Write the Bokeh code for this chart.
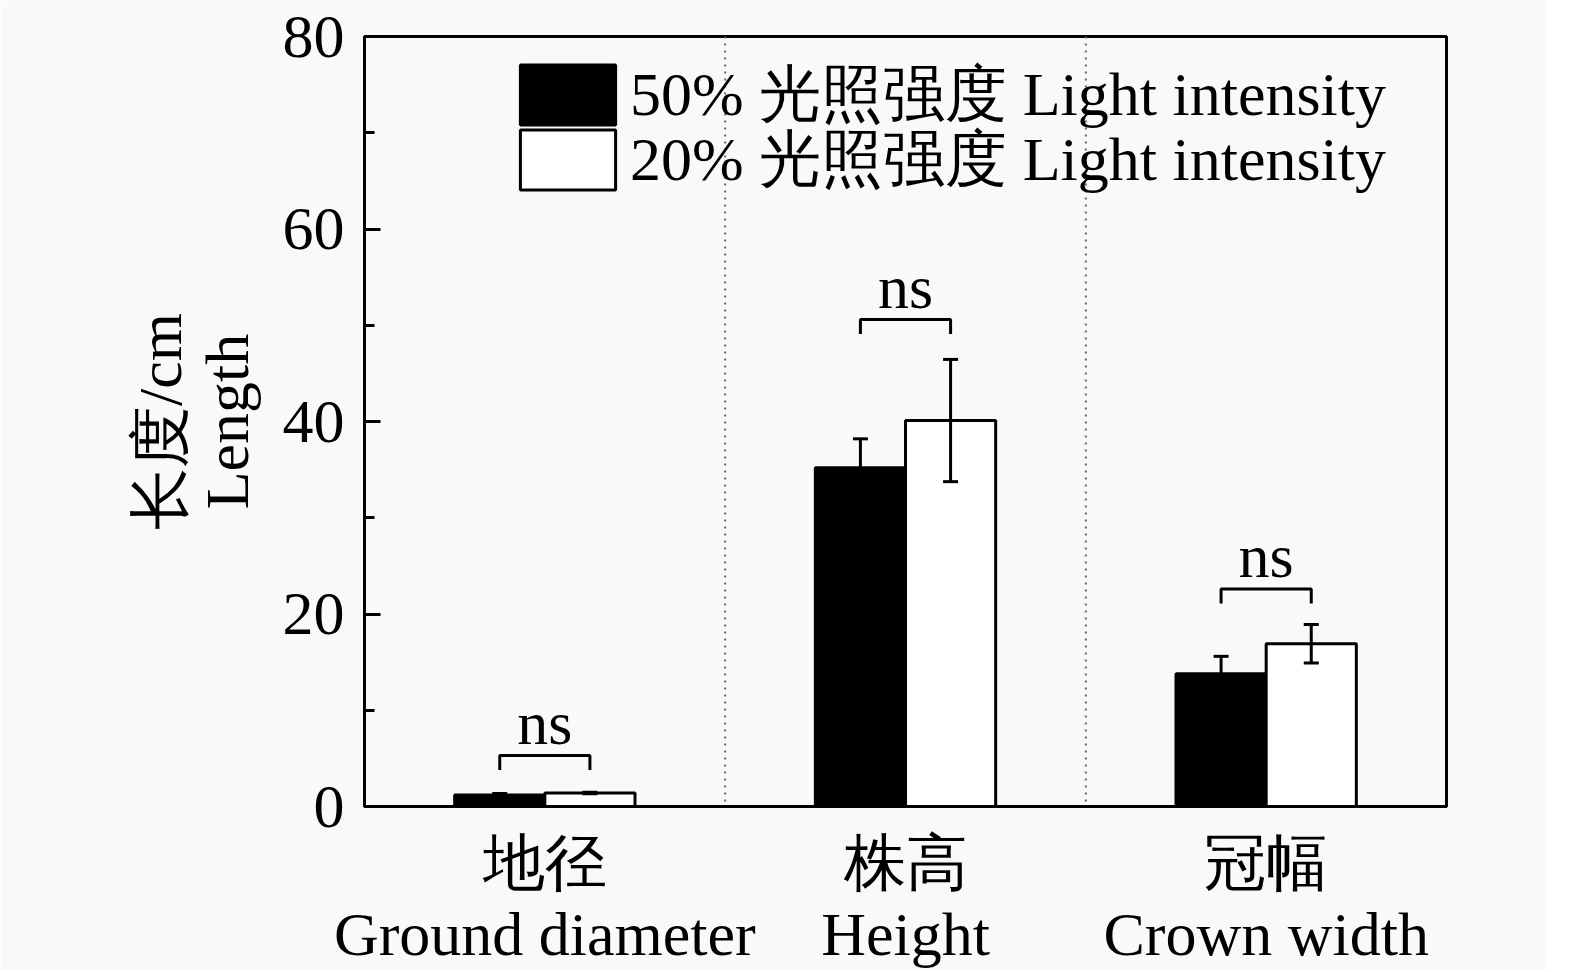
from bokeh.plotting import figure
from bokeh.models import (ColumnDataSource, Whisker, TeeHead, Span, Legend, LegendItem,
                          FixedTicker, SingleIntervalTicker, Range1d)
from bokeh.embed import file_html
from bokeh.resources import INLINE
from bokeh.core.properties import value
import numpy as np

# ---- data ----
categories = ["地径\nGround diameter", "株高\nHeight", "冠幅\nCrown width"]
series_names = ["50% 光照强度 Light intensity", "20% 光照强度 Light intensity"]
light50 = [1.2, 35.2, 13.8]
light50_err = [0.15, 3.0, 1.8]
light20 = [1.4, 40.1, 16.9]
light20_err = [0.08, 6.35, 2.0]
sig_labels = ["ns", "ns", "ns"]
sig_top = [5.3, 50.6, 22.6]
y_ticks = [0, 20, 40, 60, 80]

FONT = "Liberation Serif"
BG = "#f9f9f9"
bw = 0.25
leg = 1.5

centers = np.arange(len(categories)) + 0.5
x50 = centers - bw / 2
x20 = centers + bw / 2

p = figure(frame_width=1082, frame_height=770, min_border_left=364, min_border_top=36,
           min_border_right=100, min_border_bottom=140,
           x_range=Range1d(0, 3), y_range=Range1d(0, 80),
           output_backend="svg", toolbar_location=None)
p.background_fill_color = BG
p.border_fill_color = BG
p.outline_line_color = "black"
p.outline_line_width = 3
p.xgrid.visible = False
p.ygrid.visible = False

src50 = ColumnDataSource(dict(x=x50, top=light50, upper=np.array(light50) + np.array(light50_err),
                              lower=light50))
src20 = ColumnDataSource(dict(x=x20, top=light20, upper=np.array(light20) + np.array(light20_err),
                              lower=np.array(light20) - np.array(light20_err)))

r50 = p.vbar(x="x", top="top", width=bw, source=src50, fill_color="black",
             line_color="black", line_width=3)
r20 = p.vbar(x="x", top="top", width=bw, source=src20, fill_color="white",
             line_color="black", line_width=3)

w50 = Whisker(base="x", upper="upper", lower="lower", source=src50, dimension="height",
              line_width=3, line_color="black", level="annotation",
              upper_head=TeeHead(size=15, line_width=3, line_color="black"), lower_head=None)
w20 = Whisker(base="x", upper="upper", lower="lower", source=src20, dimension="height",
              line_width=3, line_color="black", level="annotation",
              upper_head=TeeHead(size=15, line_width=3, line_color="black"),
              lower_head=TeeHead(size=15, line_width=3, line_color="black"))
p.add_layout(w50)
p.add_layout(w20)

for loc in [1, 2]:
    p.add_layout(Span(location=loc, dimension="height", line_color="#666666",
                      line_width=2, line_dash="2 5"))

# significance brackets
xs = [[a, a, b, b] for a, b in zip(x50, x20)]
ys = [[t - leg, t, t, t - leg] for t in sig_top]
p.multi_line(xs=xs, ys=ys, line_color="black", line_width=3)
p.text(x=centers, y=np.array(sig_top) + 3.4, text=sig_labels, text_align="center",
       text_baseline="alphabetic", text_font=value(FONT), text_font_size="62px",
       text_color="black")

# axes
p.xaxis.ticker = FixedTicker(ticks=list(centers))
p.xaxis.major_label_overrides = {float(c): lab for c, lab in zip(centers, categories)}
p.xaxis.major_tick_line_color = None
p.xaxis.minor_tick_line_color = None
p.xaxis.axis_line_width = 3
p.xaxis.major_label_text_font = FONT
p.xaxis.major_label_text_font_size = "62px"
p.xaxis.major_label_text_line_height = 1.05
p.xaxis.major_label_text_color = "black"
p.xaxis.major_label_standoff = 16

p.yaxis.ticker = SingleIntervalTicker(interval=20, num_minor_ticks=2)
p.yaxis.axis_line_width = 3
p.yaxis.major_tick_in = 16
p.yaxis.major_tick_out = 0
p.yaxis.minor_tick_in = 10
p.yaxis.minor_tick_out = 0
p.yaxis.major_tick_line_width = 3
p.yaxis.minor_tick_line_width = 3
p.yaxis.major_label_text_font = FONT
p.yaxis.major_label_text_font_size = "62px"
p.yaxis.major_label_text_color = "black"
p.yaxis.major_label_standoff = 20
p.yaxis.axis_label = "长度/cm\nLength"
p.yaxis.axis_label_text_font = FONT
p.yaxis.axis_label_text_font_size = "62px"
p.yaxis.axis_label_text_line_height = 0.98
p.yaxis.axis_label_text_font_style = "normal"
p.yaxis.axis_label_text_color = "black"
p.yaxis.axis_label_standoff = 19

legend_kw = dict(padding=0, spacing=0, glyph_width=119, glyph_height=75,
                 label_standoff=3, label_text_font=FONT, label_text_font_size="62px",
                 label_text_color="black", border_line_color=None, background_fill_alpha=0)
legend1 = Legend(items=[LegendItem(label=series_names[0], renderers=[r50])],
                 location=(144, 670), **legend_kw)
legend2 = Legend(items=[LegendItem(label=series_names[1], renderers=[r20])],
                 location=(144, 605), **legend_kw)
p.add_layout(legend1)
p.add_layout(legend2)

open("out.html", "w").write(file_html(p, INLINE))
